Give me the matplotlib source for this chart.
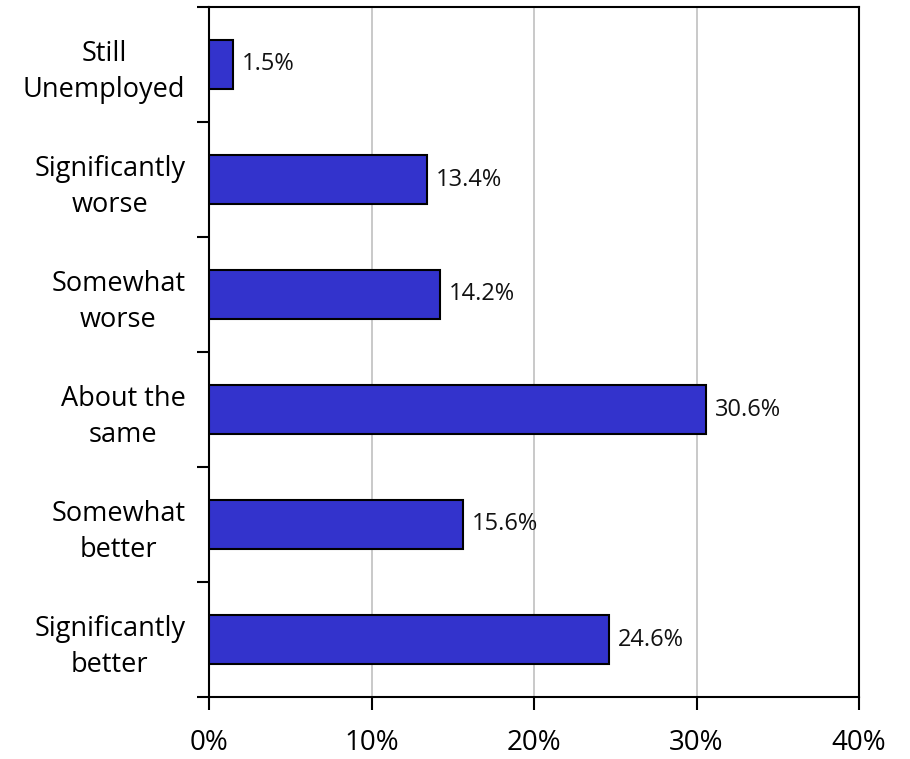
import numpy as np
import matplotlib.pyplot as plt
from matplotlib.ticker import FixedLocator

categories = ['Significantly\nbetter', 'Somewhat\nbetter', 'About the\nsame',
              'Somewhat\nworse', 'Significantly\nworse', 'Still\nUnemployed']
values = [24.6, 15.6, 30.6, 14.2, 13.4, 1.5]
value_labels = ['24.6%', '15.6%', '30.6%', '14.2%', '13.4%', '1.5%']
x_ticks = [0, 10, 20, 30, 40]
x_tick_labels = ['0%', '10%', '20%', '30%', '40%']

plt.rcParams['font.family'] = ['Open Sans', 'DejaVu Sans']

fig = plt.figure(figsize=(9.1, 7.59), dpi=100)
ax = fig.add_axes([209/910, 1-697/759, 650/910, 690/759])

y = np.arange(len(categories))
bars = ax.barh(y, values, height=0.42, color='#3333CC', edgecolor='black', linewidth=1.5, zorder=3)
for b, lab in zip(bars, value_labels):
    ax.text(b.get_width() + 0.55, b.get_y() + b.get_height()/2, lab,
            va='center', ha='left', fontsize=17, color='#111111', zorder=4)

ax.set_xlim(0, 40)
ax.set_ylim(-0.5, len(categories) - 0.5)
ax.set_xticks(x_ticks)
ax.set_xticklabels(x_tick_labels, fontsize=20)
ax.set_yticks(y)
ax.set_yticklabels(categories, fontsize=19.5, multialignment='center', linespacing=1.4)
ax.yaxis.set_minor_locator(FixedLocator(np.arange(-0.5, len(categories), 1.0)))
ax.tick_params(axis='y', which='major', length=0, pad=17)
ax.tick_params(axis='y', which='minor', length=9, width=1.5, direction='out')
ax.tick_params(axis='x', length=9, width=1.5, direction='out', pad=14)

ax.grid(axis='x', color='#c0c0c0', linewidth=1.2, zorder=0)
for s in ax.spines.values():
    s.set_linewidth(1.5)

fig.savefig('out.png', dpi=100)
